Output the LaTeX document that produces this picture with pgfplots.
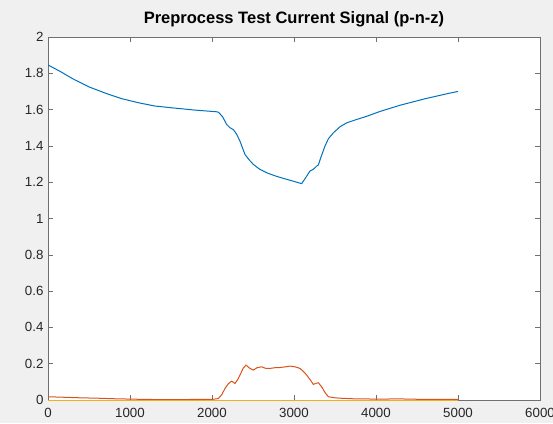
\documentclass[border=0pt]{standalone}
\usepackage{fontspec}
\setmainfont{Liberation Sans}
\usepackage{pgfplots}
\pgfplotsset{compat=1.18}
\definecolor{mblue}{HTML}{0072BD}
\definecolor{morange}{HTML}{D95319}
\definecolor{myellow}{HTML}{EDB120}
\definecolor{figbg}{HTML}{F0F0F0}
\definecolor{axgray}{HTML}{707070}
\definecolor{txt}{HTML}{262626}
\begin{document}
\begin{tikzpicture}[x=1pt,y=1pt]
\fill[figbg] (0,0) rectangle (553,423);
\useasboundingbox (0,0) rectangle (553,423);
\begin{axis}[
  at={(48pt,23pt)}, anchor=south west,
  scale only axis, width=492pt, height=363pt,
  xmin=0, xmax=6000, ymin=0, ymax=2,
  axis background/.style={fill=white},
  xtick={0,1000,2000,3000,4000,5000,6000},
  xticklabels={0,1000,2000,3000,4000,5000,6000},
  ytick={0,0.2,0.4,0.6,0.8,1,1.2,1.4,1.6,1.8,2},
  yticklabels={0,0.2,0.4,0.6,0.8,1,1.2,1.4,1.6,1.8,2},
  tick align=inside, major tick length=5pt,
  tick style={axgray, line width=0.6pt},
  axis line style={axgray, line width=0.8pt},
  /pgf/number format/assume math mode=true,
  ticklabel style={font=\fontsize{13.3}{15}\selectfont, text=txt},
  xticklabel style={yshift=-5pt},
  yticklabel style={xshift=-1pt},
  title={Preprocess Test Current Signal (p-n-z)},
  title style={font=\fontsize{16.5}{19}\selectfont\bfseries, text=black, at={(0.5,1)}, anchor=base, yshift=7pt},
]
\addplot[mblue, line width=1pt] coordinates {
(0,1.846) (150,1.81) (309,1.768) (500,1.725) (716,1.688) (900,1.66) (1122,1.636)
(1300,1.62) (1528,1.609) (1800,1.597) (2057,1.588) (2080,1.585) (2130,1.56)
(2179,1.518) (2220,1.50) (2260,1.49) (2300,1.465) (2341,1.426) (2402,1.353)
(2450,1.325) (2504,1.298) (2580,1.272) (2667,1.252) (2770,1.235) (2870,1.221)
(2980,1.207) (3093,1.192) (3150,1.23) (3195,1.262) (3236,1.271) (3277,1.289)
(3297,1.295) (3330,1.34) (3378,1.399) (3420,1.44) (3480,1.472) (3560,1.505)
(3642,1.527) (3760,1.545) (3886,1.563) (4050,1.59) (4293,1.624) (4600,1.66)
(4902,1.691) (5000,1.70)
};
\addplot[morange, line width=1pt] coordinates {
(0,0.018) (200,0.015) (400,0.012) (600,0.010) (800,0.007) (1000,0.005)
(1200,0.003) (1500,0.002) (1800,0.003) (2000,0.003) (2077,0.008) (2120,0.03)
(2159,0.064) (2200,0.09) (2240,0.104) (2280,0.091) (2310,0.11) (2341,0.137)
(2380,0.175) (2415,0.192) (2460,0.175) (2504,0.165) (2550,0.178) (2606,0.183)
(2650,0.175) (2707,0.174) (2770,0.178) (2829,0.179) (2900,0.183) (2951,0.187)
(3020,0.182) (3073,0.174) (3120,0.155) (3155,0.137) (3200,0.11) (3236,0.086)
(3270,0.092) (3297,0.095) (3337,0.073) (3380,0.04) (3419,0.018) (3500,0.012)
(3561,0.010) (3700,0.007) (4000,0.005) (4300,0.006) (4500,0.004) (4800,0.003)
(5000,0.003)
};
\addplot[myellow, line width=1pt] coordinates {(0,0) (5000,0)};
\end{axis}
\end{tikzpicture}
\end{document}
